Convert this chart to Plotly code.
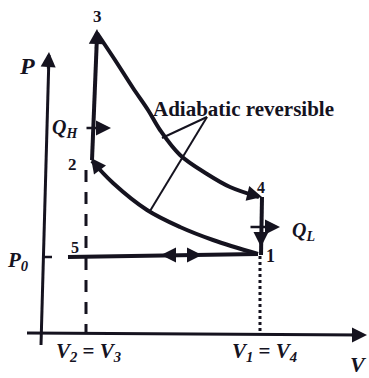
import plotly.graph_objects as go

# Otto-type cycle, coordinates in the picture frame (x to the right, y downward)
axis_y_x = [41, 49]
axis_y_y = [345, 55]
axis_x_x = [27, 362]
axis_x_y = [333, 335]

# process 2 -> 3 (constant volume heating)
line_23_x = [92, 97]
line_23_y = [160, 36]
# process 3 -> 4 (adiabatic expansion)
curve_34_x = [97, 115, 133, 148, 160, 180, 207, 230, 259]
curve_34_y = [33, 60, 88, 110, 130, 155, 174, 187, 197]
# process 4 -> 1 (constant volume cooling)
line_41_x = [262, 261]
line_41_y = [197, 255]
# process 1 -> 2 (adiabatic compression)
curve_12_x = [258, 213, 180, 147, 113, 92]
curve_12_y = [254, 240, 227, 210, 183, 161]
# intake / exhaust line 5 <-> 1
line_51_x = [68, 258]
line_51_y = [257, 254]
# guide lines
dash_v2_x = [86, 86]
dash_v2_y = [170, 333]
dot_v1_x = [260, 260]
dot_v1_y = [256, 333]
p0_tick_x = [42, 52]
p0_tick_y = [257, 257]
leader_a_x = [207, 162]
leader_a_y = [117, 138]
leader_b_x = [207, 150]
leader_b_y = [117, 211]

INK = "#15131f"
fig = go.Figure()

def seg(x, y, w, dash=None, shape="spline"):
    fig.add_trace(go.Scatter(x=x, y=y, mode="lines",
                             line=dict(color=INK, width=w, dash=dash, shape=shape),
                             hoverinfo="skip"))

seg(axis_y_x, axis_y_y, 3, shape="linear")
seg(axis_x_x, axis_x_y, 3, shape="linear")
seg(line_23_x, line_23_y, 4, shape="linear")
seg(curve_34_x, curve_34_y, 4)
seg(line_41_x, line_41_y, 4, shape="linear")
seg(curve_12_x, curve_12_y, 4)
seg(line_51_x, line_51_y, 4, shape="linear")
seg(dash_v2_x, dash_v2_y, 3, dash="12px,10px", shape="linear")
seg(dot_v1_x, dot_v1_y, 3, dash="dot", shape="linear")
seg(p0_tick_x, p0_tick_y, 2.5, shape="linear")
seg(leader_a_x, leader_a_y, 2)
seg(leader_b_x, leader_b_y, 2)

# arrows: (tip x, tip y, tail x, tail y)
arrows = [
    (49, 52, 48, 70),      # P axis
    (367, 335, 350, 335),  # V axis
    (97, 29, 96, 50),      # at 3
    (262, 197, 246, 193),  # at 4
    (91, 158, 100, 170),   # at 2
    (261, 247, 261, 232),  # down on 4-1
    (161, 255, 174, 255),  # leftward on 5-1
    (202, 255, 189, 255),  # rightward on 5-1
    (111, 128, 85, 128),   # Q_H
    (280, 227, 249, 227),  # Q_L
]
for tx, ty, sx, sy in arrows:
    fig.add_annotation(x=tx, y=ty, ax=sx, ay=sy, xref="x", yref="y",
                       axref="x", ayref="y", showarrow=True, text="",
                       arrowhead=2, arrowsize=1.2, arrowwidth=2.5, arrowcolor=INK)

# (text, x, y, font size)
labels = [
    ("3", 97, 16, 17), ("2", 72, 164, 17), ("4", 261, 187, 16),
    ("1", 270, 256, 18), ("5", 75, 247, 16),
    ("<i>P</i>", 27, 66, 24), ("<i>P<sub>0</sub></i>", 18, 261, 21),
    ("<i>Q<sub>H</sub></i>", 65, 128, 20), ("<i>Q<sub>L</sub></i>", 303, 231, 20),
    ("<i>V<sub>2</sub></i> = <i>V<sub>3</sub></i>", 88, 352, 21),
    ("<i>V<sub>1</sub></i> = <i>V<sub>4</sub></i>", 264, 352, 21),
    ("<i>V</i>", 358, 364, 22),
]
for t, x, y, s in labels:
    fig.add_annotation(x=x, y=y, text="<b>" + t + "</b>", showarrow=False,
                       font=dict(family="Liberation Serif", size=s, color=INK))

fig.add_annotation(x=243, y=109, text="<b>Adiabatic reversible</b>", showarrow=False,
                   font=dict(family="Liberation Serif", size=21, color=INK))

fig.update_xaxes(range=[0, 369], visible=False)
fig.update_yaxes(range=[378, 0], visible=False)
fig.update_layout(width=369, height=378, margin=dict(l=0, r=0, t=0, b=0),
                  showlegend=False, plot_bgcolor="white", paper_bgcolor="white")
fig.write_html("out.html", config={"displayModeBar": False},
               post_script="document.body.style.margin='0';document.body.style.overflow='hidden';")
